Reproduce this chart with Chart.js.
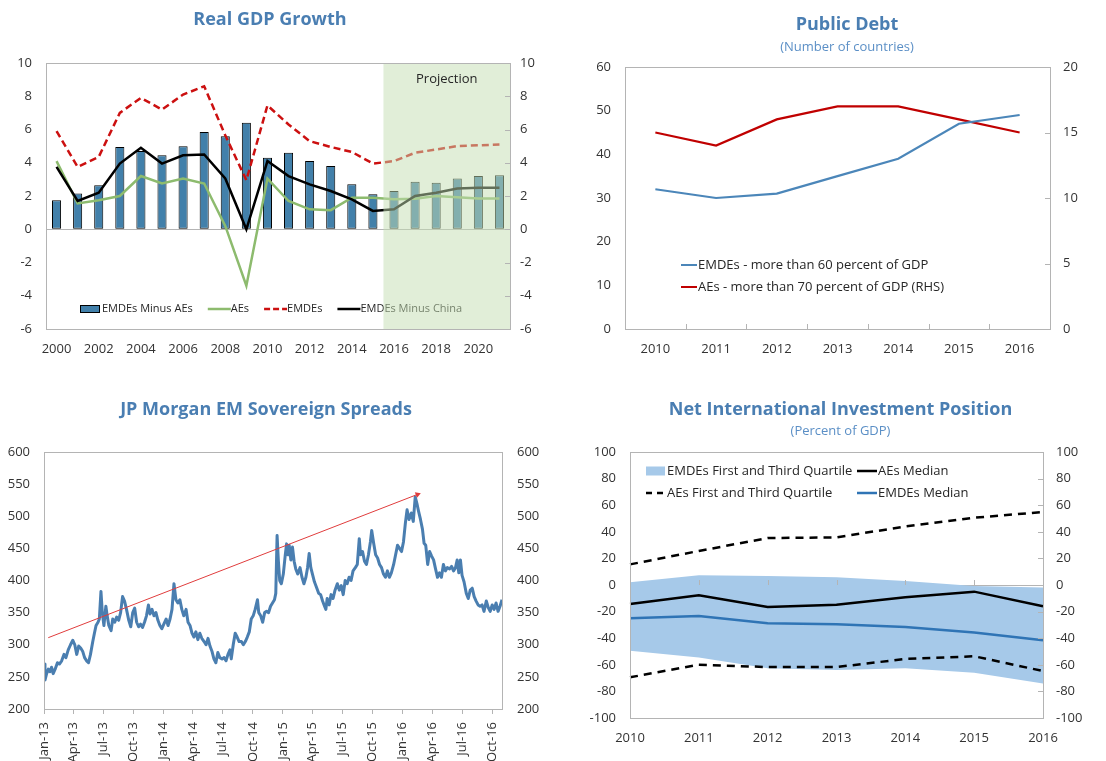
<!DOCTYPE html>
<html><head><meta charset="utf-8">
<script src="https://cdn.jsdelivr.net/npm/chart.js@4.4.1/dist/chart.umd.min.js"></script>
<style>
html,body{margin:0;padding:0;background:#fff;}
#wrap{position:relative;width:1106px;height:761px;overflow:hidden;}
canvas{position:absolute;}
</style></head><body>
<div id="wrap">
<canvas id="c1" width="553" height="380" style="left:0;top:0"></canvas>
<canvas id="c2" width="553" height="380" style="left:553px;top:0"></canvas>
<canvas id="c3" width="553" height="381" style="left:0;top:380px"></canvas>
<canvas id="c4" width="553" height="381" style="left:553px;top:380px"></canvas>
</div>
<script>
// ---------- Real GDP Growth ----------
const gdpYears = ['2000','2001','2002','2003','2004','2005','2006','2007','2008','2009','2010','2011','2012','2013','2014','2015','2016','2017','2018','2019','2020','2021'];
const emdesMinusAEs = [1.75,2.15,2.65,4.95,4.7,4.45,5.0,5.85,5.6,6.4,4.3,4.6,4.1,3.8,2.7,2.1,2.3,2.85,2.8,3.05,3.2,3.25];
const aesGrowth = [4.1,1.55,1.75,2.0,3.2,2.75,3.05,2.75,0.2,-3.4,3.05,1.7,1.2,1.15,1.9,1.9,1.8,1.83,2.0,1.93,1.85,1.85];
const emdesGrowth = [5.9,3.75,4.35,7.0,7.9,7.2,8.1,8.6,5.65,2.95,7.45,6.3,5.3,4.95,4.65,3.95,4.1,4.6,4.8,5.0,5.05,5.1];
const emdesExChina = [3.75,1.7,2.2,3.95,4.9,3.95,4.45,4.5,3.05,0.0,4.1,3.2,2.7,2.3,1.8,1.1,1.2,2.0,2.2,2.45,2.5,2.5];
const projectionFrom = '2016';

// ---------- Public Debt ----------
const debtYears = ['2010','2011','2012','2013','2014','2015','2016'];
const emdesDebt = [32,30,31,35,39,47,49];
const aesDebt = [15,14,16,17,17,16,15];

// ---------- JP Morgan EM Sovereign Spreads (days since 1 Jan 2013) ----------
const quarterDay = [0,90,181,273,365,455,546,638,730,820,911,1003,1095,1186,1277,1369];
const quarterLabels = ['Jan-13','Apr-13','Jul-13','Oct-13','Jan-14','Apr-14','Jul-14','Oct-14','Jan-15','Apr-15','Jul-15','Oct-15','Jan-16','Apr-16','Jul-16','Oct-16'];
const spreadDay = [
0,3,8,13,18,23,28,34,41,47,
54,61,67,74,81,88,94,100,106,112,
118,124,130,136,142,149,154,159,165,169,
174,178,183,189,193,198,205,210,216,222,
228,234,240,246,252,259,265,271,277,283,
289,295,301,307,313,319,324,330,336,342,
348,354,360,366,373,379,385,391,397,403,
409,415,421,427,434,440,446,452,458,464,
470,476,482,489,495,501,507,513,519,525,
531,537,544,550,556,562,568,572,578,584,
590,596,603,609,615,621,627,633,639,645,
652,656,662,668,674,680,686,692,698,704,
708,712,716,720,725,731,737,741,745,749,
754,759,764,769,775,782,788,794,800,805,
810,815,820,826,832,839,845,851,857,861,
865,871,877,883,889,896,902,908,914,920,
926,932,938,944,951,957,963,967,973,979,
985,991,997,1001,1007,1013,1019,1025,1031,1037,
1043,1049,1055,1061,1068,1074,1080,1086,1092,1098,
1104,1109,1115,1122,1128,1134,1139,1144,1150,1156,
1161,1166,1172,1178,1184,1190,1196,1202,1208,1214,
1220,1226,1232,1239,1245,1251,1257,1262,1267,1272,
1277,1283,1290,1296,1302,1308,1314,1320,1326,1332,
1338,1344,1351,1357,1363,1369,1375,1381,1387,1393,
1399];
const spreadValue = [
270,245,255,262,258,265,255,262,272,270,
275,285,280,292,300,307,300,285,298,295,
290,280,275,272,285,305,318,330,335,340,
383,350,330,360,345,330,322,340,335,343,
338,350,375,368,355,338,328,350,357,335,
328,332,327,335,345,362,348,355,345,350,
338,330,325,332,340,330,340,355,395,370,
365,370,355,345,355,335,330,318,312,320,
308,318,310,305,300,310,298,290,278,272,
288,280,278,280,275,285,292,278,300,318,
312,305,305,300,305,312,320,340,345,355,
370,350,345,335,350,352,350,360,365,370,
380,470,430,400,395,410,440,457,440,455,
432,452,430,418,410,420,405,395,405,420,
442,420,410,398,390,380,378,368,360,355,
372,362,378,372,385,395,385,392,378,400,
395,405,400,415,420,425,465,440,445,430,
425,440,460,478,458,440,435,425,420,410,
405,415,405,412,425,440,455,450,445,460,
490,510,495,505,492,530,520,508,495,480,
458,455,425,445,438,432,418,405,412,405,
425,415,420,418,422,415,420,432,412,432,
408,398,380,372,385,388,375,368,362,360,
362,352,368,358,352,362,355,365,352,360,
370];
const trendDay = [13,1141];
const trendValue = [311,534];

// ---------- Net International Investment Position ----------
const niipYears = ['2010','2011','2012','2013','2014','2015','2016'];
const emdesQ3 = [2,7.3,6.8,5.8,3,-0.8,-1.8];
const emdesQ1 = [-49.5,-54.5,-62.5,-64,-62.5,-66,-74];
const aesMedian = [-14.3,-7.8,-16.5,-14.8,-9.3,-5,-16];
const emdesMedian = [-25,-23.3,-28.8,-29.6,-31.6,-35.8,-41.6];
const aesQ3 = [15.5,25.6,35.3,35.8,44,50.6,54.9];
const aesQ1 = [-69.4,-59.9,-61.7,-61.7,-55.6,-53.6,-64.7];

// ---------- shared styling ----------
const TITLE_C = '#4a7eb2', SUB_C = '#5b8fc6', TICK_C = '#333333', FRAME_C = '#b4b4b4', LEG_C = '#262626';
Chart.defaults.font.family = '"Open Sans", "DejaVu Sans", sans-serif';
Chart.defaults.font.size = 13;
Chart.defaults.color = TICK_C;
Chart.defaults.animation = false;
Chart.defaults.events = [];
Chart.defaults.responsive = false;
Chart.defaults.devicePixelRatio = 1;
Chart.defaults.plugins.legend.display = false;
Chart.defaults.plugins.tooltip.enabled = false;

const fixW = w => s => { s.width = w; };
const fixH = h => s => { s.height = h; };
const zeroGrid = c => (c.tick && c.tick.value === 0) ? FRAME_C : 'rgba(0,0,0,0)';

Chart.register({
  id: 'frame',
  afterDraw(chart) {
    const {ctx, chartArea: a} = chart;
    ctx.save();
    ctx.strokeStyle = FRAME_C; ctx.lineWidth = 1;
    const l = Math.round(a.left), t = Math.round(a.top), r = Math.round(a.right), b = Math.round(a.bottom);
    ctx.strokeRect(l + 0.5, t + 0.5, r - l, b - t);
    ctx.restore();
  }
});
Chart.register({
  id: 'innerTicks',
  defaults: {marks: []},
  afterDraw(chart, args, opts) {
    const {ctx, chartArea: a} = chart;
    ctx.save(); ctx.strokeStyle = FRAME_C; ctx.lineWidth = 1; ctx.beginPath();
    (opts.marks || []).forEach(m => {
      const s = chart.scales[m.scale]; const n = s.ticks.length;
      if (m.kind === 'right') for (let i = 0; i < n; i++) { const y = Math.round(s.getPixelForTick(i)) + 0.5; ctx.moveTo(a.right - m.len, y); ctx.lineTo(a.right, y); }
      if (m.kind === 'between') for (let i = 1; i < n; i++) { const x = Math.round((s.getPixelForTick(i - 1) + s.getPixelForTick(i)) / 2) + 0.5; ctx.moveTo(x, a.bottom); ctx.lineTo(x, a.bottom - m.len); }
      if (m.kind === 'zero') { const y0 = Math.round(chart.scales[m.yScale].getPixelForValue(0)); for (let i = 1; i < n - 1; i++) { const x = Math.round(s.getPixelForTick(i)) + 0.5; ctx.moveTo(x, y0); ctx.lineTo(x, y0 - m.len); } }
    });
    ctx.stroke(); ctx.restore();
  }
});
Chart.register({
  id: 'titleShift',
  defaults: {dx: 0},
  afterLayout(chart, args, opts) {
    const t = chart.titleBlock;
    if (t && opts.dx) { t.left += opts.dx; t.right += opts.dx; }
  }
});

function legendSymbol(ctx, it, x, y) {
  ctx.save();
  if (it.box) {
    ctx.fillStyle = it.fill;
    ctx.fillRect(x, y - it.h / 2, it.w, it.h);
    if (it.stroke) { ctx.strokeStyle = it.stroke; ctx.lineWidth = 1; ctx.strokeRect(x + 0.5, y - it.h / 2 + 0.5, it.w - 1, it.h - 1); }
  } else {
    ctx.strokeStyle = it.stroke; ctx.lineWidth = it.lw; ctx.setLineDash(it.dash || []);
    ctx.beginPath(); ctx.moveTo(x, y); ctx.lineTo(x + it.w, y); ctx.stroke();
  }
  ctx.restore();
}

// ---------- Chart 1 ----------
const gdpLegend = {
  id: 'gdpLegend',
  beforeDatasetsDraw(chart) {
    const {ctx, chartArea: a} = chart;
    let x = a.left + 34; const y = a.bottom - 20;
    ctx.save();
    ctx.font = '11px "Open Sans"'; ctx.fillStyle = LEG_C; ctx.textBaseline = 'middle';
    chart.data.datasets.forEach(d => {
      const isBar = d.type === 'bar';
      const sym = isBar ? {box: true, w: 20, h: 8, fill: d.backgroundColor, stroke: d.borderColor}
                        : {w: 23, stroke: d.borderColor, lw: 2.5, dash: d.borderDash ? [6, 3] : []};
      legendSymbol(ctx, sym, x, y);
      x += sym.w + (isBar ? 2 : 0);
      ctx.fillText(d.label, x, y);
      x += ctx.measureText(d.label).width + 15;
    });
    ctx.restore();
  }
};
const projectionShade = {
  id: 'projectionShade',
  afterDatasetsDraw(chart) {
    const {ctx, chartArea: a, scales: {x}} = chart;
    const i = gdpYears.indexOf(projectionFrom);
    const x0 = (x.getPixelForValue(i - 1) + x.getPixelForValue(i)) / 2;
    ctx.save();
    ctx.fillStyle = 'rgba(196,222,178,0.5)';
    ctx.fillRect(x0, a.top, a.right - x0, a.bottom - a.top);
    ctx.fillStyle = LEG_C; ctx.font = '13px "Open Sans"'; ctx.textAlign = 'center'; ctx.textBaseline = 'middle';
    ctx.fillText('Projection', (x0 + a.right) / 2, a.top + 16);
    ctx.restore();
  }
};
new Chart(document.getElementById('c1'), {
  type: 'bar',
  data: {labels: gdpYears, datasets: [
    {type: 'bar', label: 'EMDEs Minus AEs', data: emdesMinusAEs, backgroundColor: '#4280aa', borderColor: '#000000', borderWidth: 1, borderSkipped: false, categoryPercentage: 1, barPercentage: 0.43, order: 10},
    {type: 'line', label: 'AEs', data: aesGrowth, borderColor: '#8dbb6e', borderWidth: 2.5, pointRadius: 0, order: 3},
    {type: 'line', label: 'EMDEs', data: emdesGrowth, borderColor: '#cc1010', borderWidth: 2.5, borderDash: [7, 4], pointRadius: 0, order: 2},
    {type: 'line', label: 'EMDEs Minus China', data: emdesExChina, borderColor: '#000000', borderWidth: 2.5, pointRadius: 0, order: 1}
  ]},
  options: {
    layout: {padding: {left: 0, right: 13, top: 0, bottom: 0}},
    plugins: {
      title: {display: true, text: 'Real GDP Growth', color: TITLE_C, font: {size: 18, weight: 'bold'}, padding: {top: 9.2, bottom: 32.2}},
      innerTicks: {marks: [{scale: 'y2', kind: 'right', len: 5}]}
    },
    scales: {
      x: {grid: {display: false, drawTicks: false}, border: {display: false},
          ticks: {autoSkip: false, maxRotation: 0, padding: 12, callback: (v, i) => i % 2 === 0 ? gdpYears[i] : ''}, afterFit: fixH(51)},
      y: {min: -6, max: 10, ticks: {stepSize: 2, padding: 14}, grid: {drawTicks: false, color: zeroGrid}, border: {display: false}, afterFit: fixW(46)},
      y2: {position: 'right', min: -6, max: 10, ticks: {stepSize: 2, padding: 10}, grid: {display: false, drawTicks: false}, border: {display: false}, afterFit: fixW(30)}
    }
  },
  plugins: [gdpLegend, projectionShade]
});

// ---------- Chart 2 ----------
const debtLegend = {
  id: 'debtLegend',
  afterDatasetsDraw(chart) {
    const {ctx, chartArea: a} = chart;
    const x = a.left + 56;
    ctx.save();
    ctx.font = '13px "Open Sans"'; ctx.fillStyle = LEG_C; ctx.textBaseline = 'middle';
    chart.data.datasets.forEach((d, k) => {
      const y = a.bottom - 64 + k * 22;
      legendSymbol(ctx, {w: 16, stroke: d.borderColor, lw: 2}, x, y);
      ctx.fillText(d.label, x + 17, y);
    });
    ctx.restore();
  }
};
new Chart(document.getElementById('c2'), {
  type: 'line',
  data: {labels: debtYears, datasets: [
    {label: 'EMDEs - more than 60 percent of GDP', data: emdesDebt, borderColor: '#4b86b9', borderWidth: 2.2, pointRadius: 0, yAxisID: 'y'},
    {label: 'AEs - more than 70 percent of GDP (RHS)', data: aesDebt, borderColor: '#c00000', borderWidth: 2.2, pointRadius: 0, yAxisID: 'y2'}
  ]},
  options: {
    layout: {padding: {left: 35, right: 0, top: 0, bottom: 0}},
    plugins: {
      title: {display: true, text: 'Public Debt', color: TITLE_C, font: {size: 18, weight: 'bold'}, padding: {top: 14.2, bottom: 3.4}},
      subtitle: {display: true, text: '(Number of countries)', color: SUB_C, font: {size: 13}, padding: {top: 0, bottom: 12.2}},
      innerTicks: {marks: [{scale: 'y2', kind: 'right', len: 5}, {scale: 'x', kind: 'between', len: 5}]}
    },
    scales: {
      x: {offset: true, grid: {display: false, drawTicks: false}, border: {display: false}, ticks: {autoSkip: false, maxRotation: 0, padding: 12}, afterFit: fixH(51)},
      y: {min: 0, max: 60, ticks: {stepSize: 10, padding: 14}, grid: {display: false, drawTicks: false}, border: {display: false}, afterFit: fixW(37)},
      y2: {position: 'right', min: 0, max: 20, ticks: {stepSize: 5, padding: 13}, grid: {display: false, drawTicks: false}, border: {display: false}, afterFit: fixW(56)}
    }
  },
  plugins: [debtLegend]
});

// ---------- Chart 3 ----------
new Chart(document.getElementById('c3'), {
  type: 'line',
  data: {datasets: [
    {label: 'JP Morgan EM sovereign spread', data: spreadDay.map((d, i) => ({x: d, y: spreadValue[i]})), borderColor: '#4a7eb0', borderWidth: 3, pointRadius: 0, borderJoinStyle: 'round', order: 2},
    {label: 'Trend', data: trendDay.map((d, i) => ({x: d, y: trendValue[i]})), borderColor: '#e03c3c', borderWidth: 1, pointRadius: [0, 3.5], pointStyle: 'triangle', pointRotation: 69, pointBackgroundColor: '#e03c3c', pointBorderWidth: 0, order: 1}
  ]},
  options: {
    layout: {padding: {left: 0, right: 0, top: 0, bottom: 0}},
    plugins: {
      title: {display: true, text: 'JP Morgan EM Sovereign Spreads', color: TITLE_C, font: {size: 18, weight: 'bold'}, padding: {top: 18.7, bottom: 31.7}},
      titleShift: {dx: -10.5}
    },
    scales: {
      x: {type: 'linear', min: 0, max: 1399,
          afterBuildTicks: s => { s.ticks = quarterDay.map(v => ({value: v})); },
          ticks: {autoSkip: false, minRotation: 90, maxRotation: 90, padding: 8, callback: (v, i) => quarterLabels[i]},
          grid: {drawOnChartArea: false, drawTicks: true, tickLength: 5, color: FRAME_C}, border: {display: false}, afterFit: fixH(52)},
      y: {min: 200, max: 600, ticks: {stepSize: 50, padding: 14}, grid: {display: false, drawTicks: false}, border: {display: false}, afterFit: fixW(44)},
      y2: {position: 'right', min: 200, max: 600, ticks: {stepSize: 50, padding: 15}, grid: {display: false, drawTicks: false}, border: {display: false}, afterFit: fixW(51)}
    }
  }
});

// ---------- Chart 4 ----------
const niipLegend = {
  id: 'niipLegend',
  afterDatasetsDraw(chart) {
    const {ctx, chartArea: a} = chart;
    const ds = chart.data.datasets;
    const cols = [a.left + 16, a.left + 227], rows = [a.top + 19, a.top + 41];
    const items = [
      {d: ds[0], sym: {box: true, w: 19, h: 9, fill: ds[0].backgroundColor}, c: 0, r: 0},
      {d: ds[3], sym: {w: 20, stroke: ds[3].borderColor, lw: 2.5, dash: [6, 5]}, c: 0, r: 1},
      {d: ds[2], sym: {w: 20, stroke: ds[2].borderColor, lw: 2.5}, c: 1, r: 0},
      {d: ds[5], sym: {w: 20, stroke: ds[5].borderColor, lw: 2.5}, c: 1, r: 1}
    ];
    ctx.save();
    ctx.font = '13px "Open Sans"'; ctx.fillStyle = LEG_C; ctx.textBaseline = 'middle';
    items.forEach(it => {
      const x = cols[it.c], y = rows[it.r];
      legendSymbol(ctx, it.sym, x, y);
      ctx.fillText(it.d.label, x + 21, y);
    });
    ctx.restore();
  }
};
new Chart(document.getElementById('c4'), {
  type: 'line',
  data: {labels: niipYears, datasets: [
    {label: 'EMDEs First and Third Quartile', data: emdesQ3, backgroundColor: '#a6c9e9', borderColor: 'rgba(0,0,0,0)', borderWidth: 0, pointRadius: 0, fill: '+1', order: 10},
    {label: 'EMDEs First Quartile', data: emdesQ1, borderColor: 'rgba(0,0,0,0)', borderWidth: 0, pointRadius: 0, fill: false, order: 11},
    {label: 'AEs Median', data: aesMedian, borderColor: '#000000', borderWidth: 2.5, pointRadius: 0, order: 1},
    {label: 'AEs First and Third Quartile', data: aesQ3, borderColor: '#000000', borderWidth: 2.5, borderDash: [8, 6], pointRadius: 0, order: 2},
    {label: 'AEs First Quartile', data: aesQ1, borderColor: '#000000', borderWidth: 2.5, borderDash: [8, 6], pointRadius: 0, order: 2},
    {label: 'EMDEs Median', data: emdesMedian, borderColor: '#2f74b5', borderWidth: 2.5, pointRadius: 0, order: 1}
  ]},
  options: {
    layout: {padding: {left: 22, right: 0, top: 0, bottom: 0}},
    plugins: {
      title: {display: true, text: 'Net International Investment Position', color: TITLE_C, font: {size: 18, weight: 'bold'}, padding: {top: 18.7, bottom: 2.9}},
      subtitle: {display: true, text: '(Percent of GDP)', color: SUB_C, font: {size: 13}, padding: {top: 0, bottom: 13.2}},
      innerTicks: {marks: [{scale: 'y2', kind: 'right', len: 5}, {scale: 'x', kind: 'zero', yScale: 'y', len: 5}]}
    },
    scales: {
      x: {offset: false, grid: {display: false, drawTicks: false}, border: {display: false}, ticks: {autoSkip: false, maxRotation: 0, padding: 12}, afterFit: fixH(43)},
      y: {min: -100, max: 100, z: 1, ticks: {stepSize: 20, padding: 14}, grid: {drawTicks: false, color: zeroGrid}, border: {display: false}, afterFit: fixW(55)},
      y2: {position: 'right', min: -100, max: 100, ticks: {stepSize: 20, padding: 13}, grid: {display: false, drawTicks: false}, border: {display: false}, afterFit: fixW(63)}
    }
  },
  plugins: [niipLegend]
});
</script>
</body></html>
